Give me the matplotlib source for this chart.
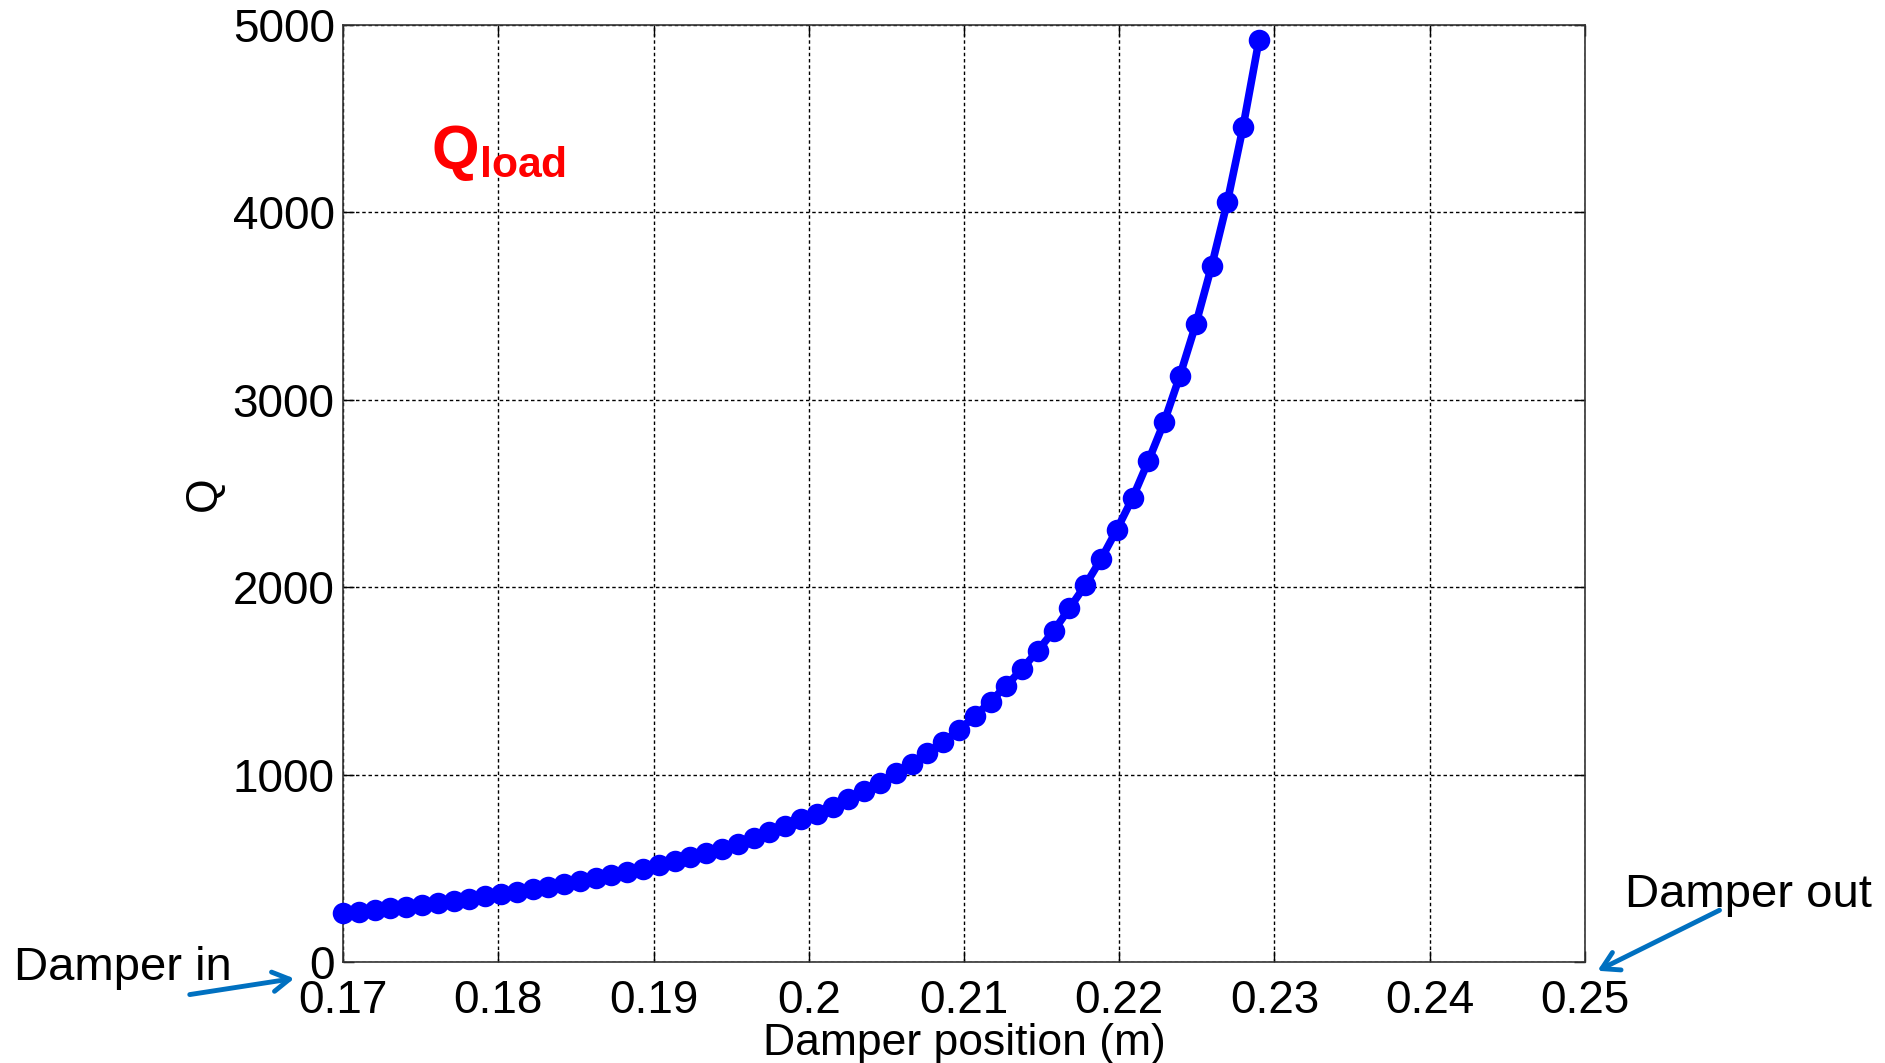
import matplotlib
matplotlib.use("Agg")
import matplotlib.pyplot as plt

plt.rcParams["font.family"] = ["Liberation Sans", "DejaVu Sans"]
plt.rcParams["mathtext.fontset"] = "custom"
plt.rcParams["mathtext.rm"] = "Liberation Sans"
plt.rcParams["mathtext.bf"] = "Liberation Sans:bold"

# damper position (m) and Q
position = [
    0.17000, 0.17102, 0.17203, 0.17305, 0.17407, 0.17509, 0.17610, 0.17712,
    0.17814, 0.17916, 0.18017, 0.18119, 0.18221, 0.18322, 0.18424, 0.18526,
    0.18628, 0.18729, 0.18831, 0.18933, 0.19034, 0.19136, 0.19238, 0.19340,
    0.19441, 0.19543, 0.19645, 0.19747, 0.19848, 0.19950, 0.20052, 0.20153,
    0.20255, 0.20357, 0.20459, 0.20560, 0.20662, 0.20764, 0.20866, 0.20967,
    0.21069, 0.21171, 0.21272, 0.21374, 0.21476, 0.21578, 0.21679, 0.21781,
    0.21883, 0.21984, 0.22086, 0.22188, 0.22290, 0.22391, 0.22493, 0.22595,
    0.22697, 0.22798, 0.22900,
]
q_load = [
    260, 268, 277, 286, 296, 306, 316, 327, 338, 350,
    362, 375, 388, 402, 416, 431, 447, 463, 480, 498,
    517, 537, 558, 580, 604, 630, 662, 694, 727, 761,
    792, 829, 869, 912, 957, 1006, 1059, 1114, 1173, 1238,
    1311, 1390, 1474, 1564, 1662, 1767, 1887, 2010, 2150, 2306,
    2476, 2674, 2883, 3129, 3402, 3713, 4058, 4457, 4918,
]

x_ticks = [0.17, 0.18, 0.19, 0.20, 0.21, 0.22, 0.23, 0.24, 0.25]
x_tick_labels = ["0.17", "0.18", "0.19", "0.2", "0.21", "0.22", "0.23", "0.24", "0.25"]
y_ticks = [0, 1000, 2000, 3000, 4000, 5000]
y_tick_labels = ["0", "1000", "2000", "3000", "4000", "5000"]

fig = plt.figure(figsize=(18.85, 10.63), dpi=100)
ax = fig.add_axes([0.182, 0.095, 0.6588, 0.8815])

ax.plot(position, q_load, "-o", color="blue", lw=5.5, ms=9,
        mfc="none", mec="blue", mew=6.5, clip_on=False, zorder=3)

ax.set_xlim(0.17, 0.25)
ax.set_ylim(0, 5000)
ax.set_xticks(x_ticks)
ax.set_xticklabels(x_tick_labels)
ax.set_yticks(y_ticks)
ax.set_yticklabels(y_tick_labels)
ax.tick_params(direction="in", length=8, width=1, labelsize=33,
               top=True, right=True, pad=6)
ax.tick_params(axis="x", pad=12)
ax.grid(True, color="black", linestyle=(0, (2.5, 2)), lw=1)
for s in ax.spines.values():
    s.set_color("#333333")
    s.set_linewidth(1.2)

ax.set_xlabel("Damper position (m)", fontsize=32, labelpad=0)
ax.set_ylabel("Q", fontsize=32, labelpad=6)

fig.text(431 / 1885, 1 - 168 / 1063, r"$\mathbf{Q}_{\mathbf{load}}$",
         color="red", fontsize=44, ha="left", va="baseline")

arrow_color = "#0070C0"
fig.text(14 / 1885, 1 - 980 / 1063, "Damper in", fontsize=34,
         ha="left", va="baseline")
fig.text(1625 / 1885, 1 - 907 / 1063, "Damper out", fontsize=34,
         ha="left", va="baseline")
fig.patches.append(matplotlib.patches.FancyArrowPatch(
    (187 / 1885, 1 - 995 / 1063), (297 / 1885, 1 - 978 / 1063),
    transform=fig.transFigure, arrowstyle="->,head_length=12,head_width=7",
    color=arrow_color, lw=3.5, mutation_scale=1))
fig.patches.append(matplotlib.patches.FancyArrowPatch(
    (1722 / 1885, 1 - 909 / 1063), (1595 / 1885, 1 - 972 / 1063),
    transform=fig.transFigure, arrowstyle="->,head_length=12,head_width=7",
    color=arrow_color, lw=3.5, mutation_scale=1))

fig.savefig("out.png", dpi=100)
